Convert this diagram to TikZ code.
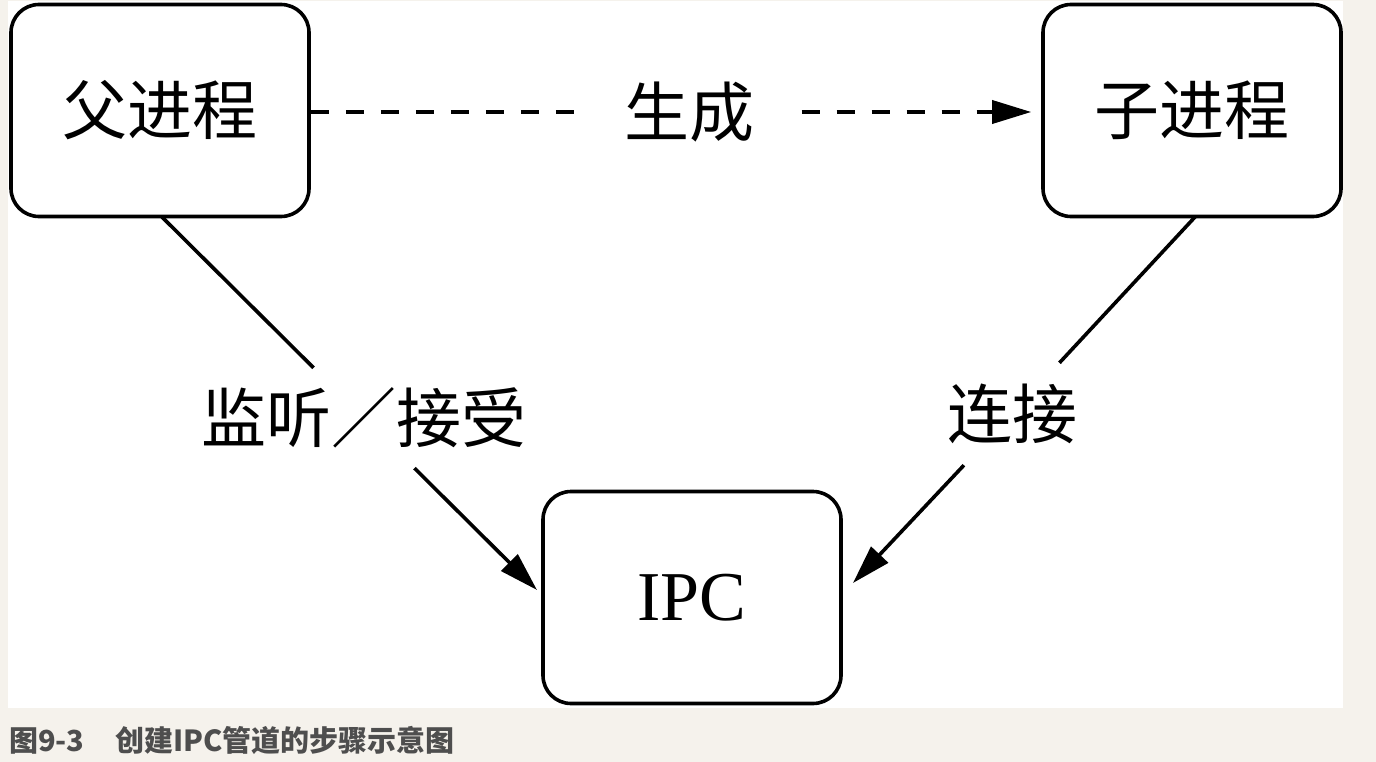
\documentclass[tikz,border=0pt]{standalone}
\usepackage{fontspec}
\setmainfont{Liberation Serif}
\newfontfamily\cjk{Noto Sans CJK SC}
\usetikzlibrary{arrows.meta}
\definecolor{pagebg}{RGB}{245,242,236}
\definecolor{captiongray}{RGB}{78,78,78}
\begin{document}
\begin{tikzpicture}[x=1pt,y=-1pt,
  procbox/.style={draw, line width=3.6pt, rounded corners=28pt,
    minimum width=298pt, minimum height=212pt, inner sep=0pt,
    font=\cjk\fontsize{65}{70}\selectfont},
  edgelabel/.style={inner sep=0pt, font=\cjk\fontsize{65}{70}\selectfont},
  link/.style={line width=3.6pt},
  head/.style={-{Triangle[length=39pt,width=23pt]}}
]
% page and white panel
\fill[pagebg] (0,0) rectangle (1376,762);
\fill[white] (8,1) rectangle (1343,708);
\useasboundingbox (0,0) rectangle (1376,762);

% processes
\node[procbox] (parent) at (160,110.5) {父进程};
\node[procbox] (child)  at (1192,110.5) {子进程};
\node[procbox, font=\rmfamily\fontsize{70}{80}\selectfont] (ipc) at (692,597.5) {IPC};

% spawn edge
\node[edgelabel, inner xsep=47.5pt] (spawn) at (689,112) {生成};
\draw[link, dash pattern=on 18pt off 17pt] (parent.east |- spawn) -- (spawn.west);
\draw[link, dash pattern=on 18pt off 17pt, head, shorten >=10pt]
  (spawn.east) -- (spawn.east -| child.west);

% listen / accept edge
\coordinate (pl) at (162,217);
\coordinate (tl) at (537,590);
\node[edgelabel, minimum height=100pt] (listen) at (364,418) {监听／接受};
\draw[link] (pl) -- (listen);
\draw[link, head] (listen) -- (tl);

% connect edge
\coordinate (pr) at (1195,217);
\coordinate (tr) at (853,583);
\node[edgelabel, minimum height=102pt] (connect) at (1012,414) {连接};
\draw[link] (pr) -- (connect);
\draw[link, head] (connect) -- (tr);

% caption
\node[anchor=base west, inner sep=0pt, text=captiongray,
  font=\cjk\bfseries\fontsize{29}{32}\selectfont] (caption) at (9,751)
  {图9-3\hspace{1.05em}创建IPC管道的步骤示意图};
\end{tikzpicture}
\end{document}
